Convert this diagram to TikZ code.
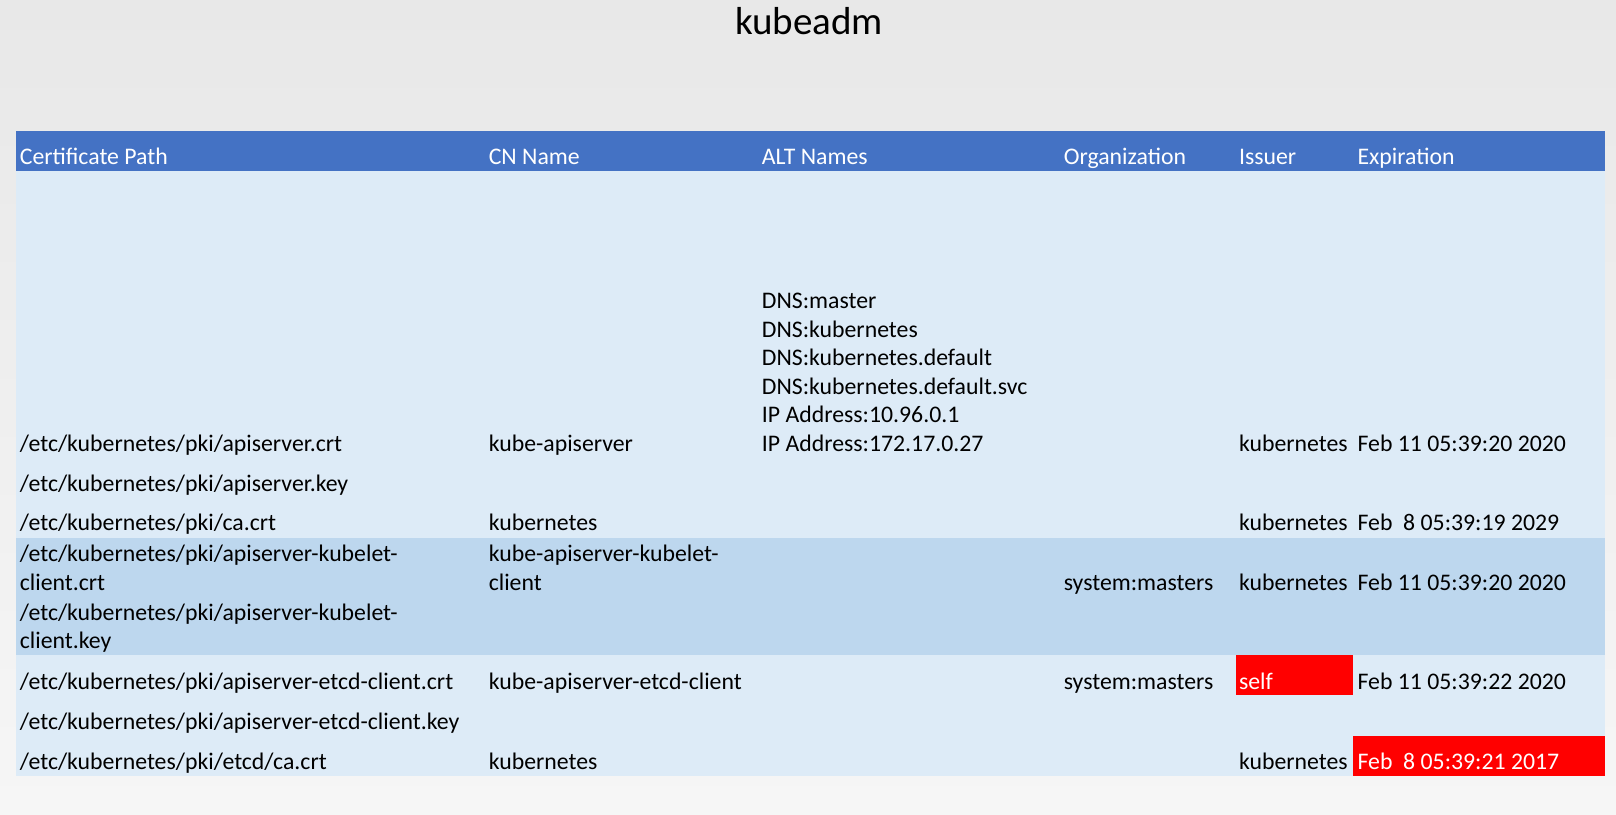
\documentclass[tikz,border=0pt]{standalone}
\usepackage{fontspec}
\setmainfont{Carlito}

\definecolor{hdrblue}{RGB}{68,114,196}
\definecolor{rowlight}{RGB}{221,235,247}
\definecolor{rowdark}{RGB}{189,215,238}
\definecolor{alertred}{RGB}{255,0,0}
\definecolor{bgtop}{RGB}{232,232,232}
\definecolor{bgbottom}{RGB}{246,246,246}

\tikzset{
	cell/.style={anchor=base west, inner sep=0.75pt, font=\fontsize{17.3}{20.8}\selectfont},
	hdr/.style={cell, text=white},
	alert/.style={cell, text=white},
}

\begin{document}
\begin{tikzpicture}[x=0.75pt,y=0.75pt,yscale=-1,xscale=1]
	\useasboundingbox (0,0) rectangle (1568,790);
	% Background
	\shade [top color=bgtop, bottom color=bgbottom] (0,0) rectangle (1568,790);

	% Title
	\draw (785,20) node (title) [inner sep=0.75pt] [font=\fontsize{28.4}{34}\selectfont] {kubeadm};

	% Shape: Rectangle
	\fill [hdrblue] (16,127) rectangle (1557,166);
	% Shape: Rectangle
	\fill [rowlight] (16,166) rectangle (1557,522);
	% Shape: Rectangle
	\fill [rowdark] (16,522) rectangle (1557,636);
	% Shape: Rectangle
	\fill [rowlight] (16,636) rectangle (1557,753);
	% Shape: Rectangle
	\fill [alertred] (1199,636) rectangle (1313,674);
	% Shape: Rectangle
	\fill [alertred] (1313,714) rectangle (1557,753);

	% Header
	\draw (18,160) node (hpath) [hdr] {Certificate Path};
	\draw (473,160) node (hcn) [hdr] {CN Name};
	\draw (738,160) node (halt) [hdr] {ALT Names};
	\draw (1031,160) node (horg) [hdr] {Organization};
	\draw (1201,160) node (hiss) [hdr] {Issuer};
	\draw (1316,160) node (hexp) [hdr] {Expiration};

	% ALT Names
	\draw (738,299) node (alta) [cell] {DNS:master};
	\draw (738,327) node (altb) [cell] {DNS:kubernetes};
	\draw (738,355) node (altc) [cell] {DNS:kubernetes.default};
	\draw (738,383) node (altd) [cell] {DNS:kubernetes.default.svc};
	\draw (738,410) node (alte) [cell] {IP Address:10.96.0.1};
	\draw (738,438) node (altf) [cell] {IP Address:172.17.0.27};

	% apiserver
	\draw (18,438) node (papi) [cell] {/etc/kubernetes/pki/apiserver.crt};
	\draw (473,438) node (cnapi) [cell] {kube-apiserver};
	\draw (1201,438) node (isapi) [cell] {kubernetes};
	\draw (1316,438) node (exapi) [cell] {Feb 11 05:39:20 2020};
	\draw (18,477) node (papikey) [cell] {/etc/kubernetes/pki/apiserver.key};

	% ca
	\draw (18,515) node (pca) [cell] {/etc/kubernetes/pki/ca.crt};
	\draw (473,515) node (cnca) [cell] {kubernetes};
	\draw (1201,515) node (isca) [cell] {kubernetes};
	\draw (1316,515) node (exca) [cell] {Feb\ \ 8 05:39:19 2029};

	% apiserver-kubelet-client
	\draw (18,545) node (pkub) [cell] {/etc/kubernetes/pki/apiserver-kubelet-};
	\draw (18,573) node (pkubb) [cell] {client.crt};
	\draw (473,545) node (cnkub) [cell] {kube-apiserver-kubelet-};
	\draw (473,573) node (cnkubb) [cell] {client};
	\draw (1031,573) node (orgkub) [cell] {system:masters};
	\draw (1201,573) node (iskub) [cell] {kubernetes};
	\draw (1316,573) node (exkub) [cell] {Feb 11 05:39:20 2020};
	\draw (18,602) node (pkubkey) [cell] {/etc/kubernetes/pki/apiserver-kubelet-};
	\draw (18,629) node (pkubkeyb) [cell] {client.key};

	% apiserver-etcd-client
	\draw (18,669) node (petc) [cell] {/etc/kubernetes/pki/apiserver-etcd-client.crt};
	\draw (473,669) node (cnetc) [cell] {kube-apiserver-etcd-client};
	\draw (1031,669) node (orgetc) [cell] {system:masters};
	\draw (1201,669) node (isetc) [alert] {self};
	\draw (1316,669) node (exetc) [cell] {Feb 11 05:39:22 2020};
	\draw (18,708) node (petckey) [cell] {/etc/kubernetes/pki/apiserver-etcd-client.key};

	% etcd ca
	\draw (18,747) node (pecca) [cell] {/etc/kubernetes/pki/etcd/ca.crt};
	\draw (473,747) node (cnecca) [cell] {kubernetes};
	\draw (1201,747) node (isecca) [cell] {kubernetes};
	\draw (1316,747) node (execca) [alert] {Feb\ \ 8 05:39:21 2017};

\end{tikzpicture}
\end{document}
